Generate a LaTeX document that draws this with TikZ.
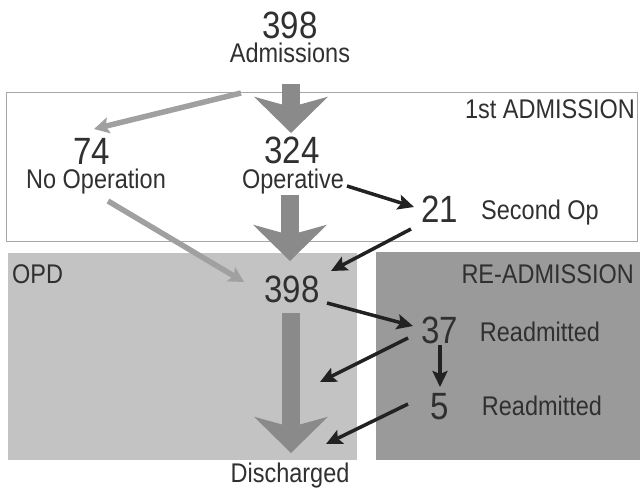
\documentclass[tikz,border=0pt]{standalone}
\usepackage{fontspec}
\setmainfont[FakeStretch=0.87]{Liberation Sans}
\usetikzlibrary{arrows.meta}
\definecolor{txt}{HTML}{303030}
\definecolor{bigg}{HTML}{8A8A8A}
\definecolor{thing}{HTML}{A0A0A0}
\definecolor{blk}{HTML}{222222}
\definecolor{opdfill}{HTML}{C3C3C3}
\definecolor{refill}{HTML}{9A9A9A}
\tikzset{
  num/.style={anchor=base, inner sep=0pt, text=txt, text depth=0pt, font=\fontsize{38}{38}\selectfont},
  lab/.style={anchor=base, inner sep=0pt, text=txt, text height=19.5pt, font=\fontsize{27}{27}\selectfont},
  bigarrow/.style={draw=bigg, line width=18pt, -{Stealth[length=36pt,width=73pt,inset=10pt]}},
  grayarrow/.style={draw=thing, line width=5.5pt, -{Stealth[length=15pt,width=16pt,inset=3pt]}},
  blkarrow/.style={draw=blk, line width=3.5pt, -{Stealth[length=16pt,width=15pt,inset=3pt]}},
}
\begin{document}
\begin{tikzpicture}[x=1pt,y=-1pt]
\useasboundingbox[fill=white] (0,0) rectangle (640,488);
% regions
\draw[draw=black!35, line width=1pt, fill=white] (6,92) rectangle (637,241);
\fill[opdfill] (8,253) rectangle (357,460);
\fill[refill] (376,252) rectangle (640,460);
% text
\node[num] (n398a) at (290,38) {398};
\node[lab] (adm) at (290,62) {Admissions};
\node[lab, anchor=base east] (first) at (635,118) {1st ADMISSION};
\node[num] (n74) at (92,164) {74};
\node[lab] (noop) at (96,188) {No Operation};
\node[num] (n324) at (292,163) {324};
\node[lab] (oper) at (293,188) {Operative};
\node[num] (n21) at (440,222) {21};
\node[lab] (second) at (540,219) {Second Op};
\node[lab, anchor=base west] (opd) at (12,283) {OPD};
\node[lab, anchor=base east] (readm) at (634,283) {RE-ADMISSION};
\node[num] (n398b) at (292,302) {398};
\node[num] (n37) at (440,343) {37};
\node[lab] (ra1) at (540,341) {Readmitted};
\node[num] (n5) at (440,419) {5};
\node[lab] (ra2) at (542,415) {Readmitted};
\node[lab] (dis) at (290,482) {Discharged};
% connector ends
\coordinate (a1s) at (291,84);  \coordinate (a1e) at (291,133);
\coordinate (a2s) at (290,195); \coordinate (a2e) at (290,261);
\coordinate (a3s) at (291,313); \coordinate (a3e) at (291,453);
\coordinate (g1s) at (241,93);  \coordinate (g1e) at (94,129);
\coordinate (g2s) at (108,201); \coordinate (g2e) at (244,282);
\coordinate (b1s) at (347,186); \coordinate (b1e) at (414,207);
\coordinate (b2s) at (411,229); \coordinate (b2e) at (331,271);
\coordinate (b3s) at (327,303); \coordinate (b3e) at (413,326);
\coordinate (b4s) at (440,345); \coordinate (b4e) at (440,387);
\coordinate (b5s) at (408,338); \coordinate (b5e) at (320,382);
\coordinate (b6s) at (408,404); \coordinate (b6e) at (326,444);
% big arrows
\draw[bigarrow] (a1s) -- (a1e);
\draw[bigarrow] (a2s) -- (a2e);
\draw[bigarrow] (a3s) -- (a3e);
% gray arrows
\draw[grayarrow] (g1s) -- (g1e);
\draw[grayarrow] (g2s) -- (g2e);
% black arrows
\draw[blkarrow] (b1s) -- (b1e);
\draw[blkarrow] (b2s) -- (b2e);
\draw[blkarrow] (b3s) -- (b3e);
\draw[blkarrow] (b4s) -- (b4e);
\draw[blkarrow] (b5s) -- (b5e);
\draw[blkarrow] (b6s) -- (b6e);
\end{tikzpicture}
\end{document}
